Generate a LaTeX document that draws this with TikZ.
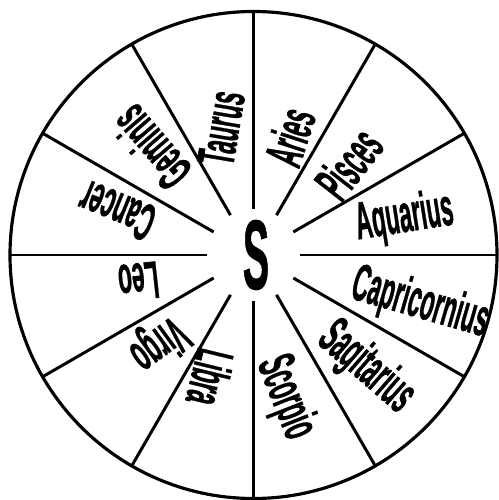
\documentclass[tikz,border=0pt]{standalone}
\usepackage{fontspec}
\setmainfont{Liberation Sans}[BoldFeatures={FakeBold=1.2}]
\newcommand{\signfont}{\fontsize{30}{30}\selectfont\bfseries}

\begin{document}
\begin{tikzpicture}[x=0.02cm, y=0.02cm,
    rim/.style={line width=1.8pt},
    spoke/.style={line width=1.7pt},
    sign/.style={font=\signfont, xscale=0.43, inner sep=0pt, text height=21.5pt, text depth=0pt}]
    \useasboundingbox (-253.5,-245) rectangle (245.5,255);
    \draw[rim] (0,0) circle (243.5);
    \foreach \a in {0,30,...,330}
        \draw[spoke] (\a:46) -- (\a:243.5);
    \node[font=\fontsize{56}{56}\selectfont\bfseries, xscale=0.4, inner sep=0pt] (sun) at (2.5,0) {S};
    % signs of the zodiac, read outwards
    \foreach \name/\rot/\ang/\rad in {Aquarius/9/15.6/156, Capricornius/-16/-14.7/173.6,
            Sagitarius/-41/-43.2/159, Scorpio/-68.5/-75.4/145.5, Libra/256.4/250.6/130,
            Virgo/216.2/225/130.7, Leo/186.3/193.4/118, Cancer/157.8/162.4/143.7,
            Geminis/130.8/133.8/148.5, Taurus/80.5/104.6/131.5, Aries/72/73/123.7,
            Pisces/52/43.9/132}
        \node[rotate=\rot, sign] (\name) at (\ang:\rad) {\name};
\end{tikzpicture}
\end{document}
